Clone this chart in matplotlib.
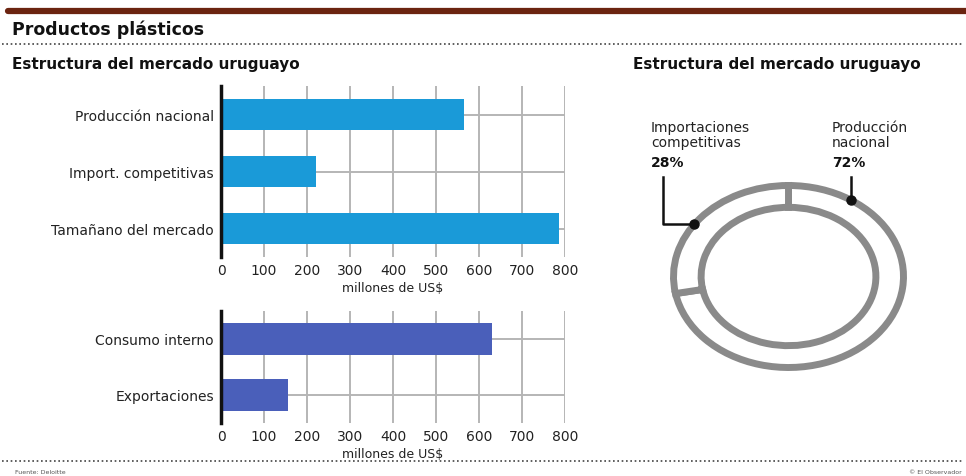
import numpy as np
import matplotlib
matplotlib.use('Agg')
import matplotlib.pyplot as plt
from matplotlib.lines import Line2D

# data
mercado_cats = ['Producción nacional', 'Import. competitivas', 'Tamañano del mercado']
mercado_vals = [565, 222, 787]
destino_cats = ['Consumo interno', 'Exportaciones']
destino_vals = [631, 156]
pie_labels = ['Producción\nnacional', 'Importaciones\ncompetitivas']
pie_pcts = [72, 28]
ticks = [0, 100, 200, 300, 400, 500, 600, 700, 800]

W, H = 966, 477
plt.rcParams['font.family'] = ['DejaVu Sans']
fig = plt.figure(figsize=(W / 100, H / 100), dpi=100)
fig.patch.set_facecolor('white')


def fx(px):
    return px / W


def fy(py):
    return 1 - py / H


# header
fig.add_artist(Line2D([fx(8), 1.0], [fy(12), fy(12)], color='#6b2410', lw=4.5,
                      solid_capstyle='round'))
fig.text(fx(12), fy(30), 'Productos plásticos', fontsize=12.5, fontweight='bold',
         va='center', color='#111111')
for y in [45, 462]:
    fig.add_artist(Line2D([fx(2), fx(964)], [fy(y), fy(y)], color='#444444', lw=1.2,
                          linestyle=(0, (1, 1.6))))
fig.text(fx(12), fy(65), 'Estructura del mercado uruguayo', fontsize=11, fontweight='bold',
         va='center', color='#111111')
fig.text(fx(633), fy(65), 'Estructura del mercado uruguayo', fontsize=11, fontweight='bold',
         va='center', color='#111111')
fig.text(fx(15), fy(473), 'Fuente: Deloitte', fontsize=4.5, va='center', color='#555555')
fig.text(fx(962), fy(473), '© El Observador', fontsize=4.5, va='center', ha='right',
         color='#555555')


def bar_panel(rect, cats, vals, color):
    ax = fig.add_axes(rect)
    y = np.arange(len(cats))
    ax.barh(y, vals, height=0.56, color=color, zorder=3)
    ax.set_ylim(len(cats) - 0.5, -0.5)
    ax.set_xlim(0, 800)
    ax.set_xticks(ticks)
    ax.set_xticklabels([str(t) for t in ticks], fontsize=10, color='#222222')
    ax.set_yticks(y)
    ax.set_yticklabels(cats, fontsize=10, color='#222222')
    ax.tick_params(axis='both', length=0, pad=5)
    ax.tick_params(axis='x', pad=4)
    for t in ticks[1:]:
        ax.axvline(t, color='#b5b5b5', lw=1.4, zorder=1)
    for yy in y:
        ax.axhline(yy, color='#b5b5b5', lw=1.4, zorder=1)
    for s in ['top', 'right', 'bottom']:
        ax.spines[s].set_visible(False)
    ax.spines['left'].set_linewidth(2.5)
    ax.spines['left'].set_color('#111111')
    ax.spines['left'].set_zorder(4)
    ax.set_xlabel('millones de US$', fontsize=9, color='#222222', labelpad=3)
    return ax


bar_panel([fx(221), fy(258), fx(565) - fx(221), fy(87) - fy(258)],
          mercado_cats, mercado_vals, '#1a9ad8')
bar_panel([fx(221), fy(424), fx(565) - fx(221), fy(312) - fy(424)],
          destino_cats, destino_vals, '#4a5fba')

# ring chart
axp = fig.add_axes([fx(673.5), fy(368.5), fx(903.5) - fx(673.5), fy(186.5) - fy(368.5)])
axp.pie(pie_pcts, startangle=90, counterclock=False, radius=1,
        wedgeprops=dict(width=0.24, facecolor='white', edgecolor='#8a8a8a', linewidth=5))
axp.set_aspect('auto')
axp.set_xlim(-1, 1)
axp.set_ylim(-1, 1)
axp.axis('off')

# leader lines
a_prod = np.deg2rad(57)
a_imp = np.deg2rad(145)
px_, py_ = np.cos(a_prod), np.sin(a_prod)
ix_, iy_ = np.cos(a_imp), np.sin(a_imp)
axp.plot([px_, px_], [py_, 1.09], color='#111111', lw=1.8, clip_on=False, zorder=5)
axp.plot([ix_, -1.09, -1.09], [iy_, iy_, 1.09], color='#111111', lw=1.8, clip_on=False,
         zorder=5)
axp.plot([px_, ix_], [py_, iy_], 'o', color='#111111', ms=6.5, clip_on=False, zorder=6)

fig.text(fx(651), fy(121), pie_labels[1], fontsize=10, va='top', color='#222222',
         linespacing=1.1)
fig.text(fx(651), fy(163), f'{pie_pcts[1]}%', fontsize=10, va='center', fontweight='bold',
         color='#111111')
fig.text(fx(832), fy(121), pie_labels[0], fontsize=10, va='top', color='#222222',
         linespacing=1.1)
fig.text(fx(832), fy(163), f'{pie_pcts[0]}%', fontsize=10, va='center', fontweight='bold',
         color='#111111')

fig.savefig('out.png', dpi=100, facecolor='white')
